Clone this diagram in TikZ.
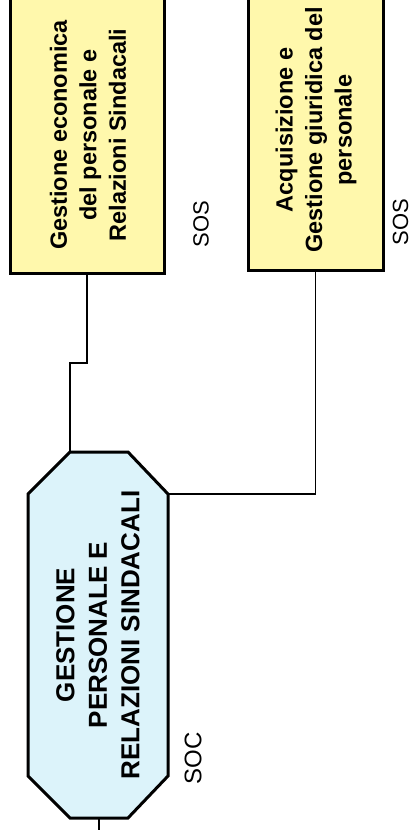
\documentclass[tikz,border=0pt]{standalone}
\usepackage{fontspec}
\setmainfont{Liberation Sans}
\definecolor{boxyellow}{RGB}{255,248,172}
\definecolor{octcyan}{RGB}{220,243,250}
\begin{document}
\begin{tikzpicture}[x=1pt,y=-1pt,
  unitbox/.style={draw, line width=3pt, fill=boxyellow, rectangle, inner sep=0pt},
  boxtext/.style={rotate=90, align=center, font=\fontsize{23.5}{29.5}\selectfont\bfseries, inner sep=0pt},
  octtext/.style={rotate=90, align=center, font=\fontsize{26}{32.5}\selectfont\bfseries, inner sep=0pt},
  tag/.style={rotate=90, inner sep=0pt},
  conn/.style={line width=1.8pt}]
\useasboundingbox (0,0) rectangle (413,830);
% unit boxes
\node[unitbox, minimum width=154pt, minimum height=290pt] (box1) at (87,128) {};
\node[boxtext] (t1) at (88,135) {Gestione economica\\del personale e\\Relazioni Sindacali};
\node[unitbox, minimum width=135pt, minimum height=290pt] (box2) at (315.5,125) {};
\node[boxtext] (t2) at (316,130) {Acquisizione e\\Gestione giuridica del\\personale};
% octagon
\coordinate (otl) at (70,452);
\coordinate (otr) at (168,494);
\coordinate (obot) at (99,818);
\filldraw[line width=3pt, fill=octcyan, line join=miter]
  (70,452) -- (128,452) -- (168,494) -- (168,776) -- (128,818) -- (70,818) -- (28,776) -- (28,494) -- cycle;
\node[octtext] (oct) at (98,635) {GESTIONE\\PERSONALE E\\RELAZIONI SINDACALI};
% labels
\node[tag, font=\fontsize{22}{26}\selectfont] (sos1) at (201,224) {SOS};
\node[tag, font=\fontsize{22}{26}\selectfont] (sos2) at (400.5,222) {SOS};
\node[tag, font=\fontsize{24}{28}\selectfont] (soc) at (193,758) {SOC};
% connectors
\coordinate (jog1) at (70,363);
\coordinate (down) at (99,840);
\draw[conn] (box1.south) |- (jog1) -- (otl);
\draw[conn] (box2.south) |- (otr);
\draw[conn] (obot) -- (down);
\end{tikzpicture}
\end{document}
